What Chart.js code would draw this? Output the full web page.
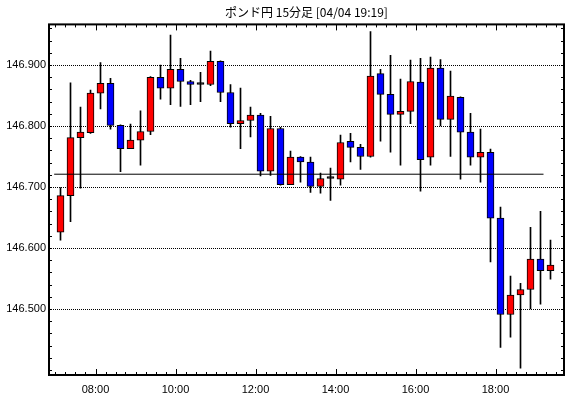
<!DOCTYPE html>
<html>
<head>
<meta charset="utf-8">
<script src="https://cdn.jsdelivr.net/npm/chart.js@4.4.0/dist/chart.umd.min.js"></script>
<style>
  html, body { margin: 0; padding: 0; background: #fff; }
  #wrap { width: 570px; height: 398px; }
</style>
</head>
<body>
<div id="wrap"><canvas id="chart" width="570" height="398"></canvas></div>
<script>
const chartTitle = 'ポンド円 15分足 [04/04 19:19]';

// 15 minute candles, start time of each bar
const times = [
  '07:00', '07:15', '07:30', '07:45', '08:00', '08:15', '08:30', '08:45', '09:00', '09:15',
  '09:30', '09:45', '10:00', '10:15', '10:30', '10:45', '11:00', '11:15', '11:30', '11:45',
  '12:00', '12:15', '12:30', '12:45', '13:00', '13:15', '13:30', '13:45', '14:00', '14:15',
  '14:30', '14:45', '15:00', '15:15', '15:30', '15:45', '16:00', '16:15', '16:30', '16:45',
  '17:00', '17:15', '17:30', '17:45', '18:00', '18:15', '18:30', '18:45', '19:00', '19:15',
];
const opens = [
  146.626, 146.686, 146.781, 146.789, 146.854, 146.870, 146.801, 146.763, 146.777, 146.791,
  146.880, 146.862, 146.893, 146.873, 146.868, 146.868, 146.906, 146.855, 146.804, 146.809,
  146.818, 146.726, 146.796, 146.704, 146.749, 146.741, 146.701, 146.714, 146.713, 146.775,
  146.765, 146.750, 146.886, 146.852, 146.819, 146.824, 146.872, 146.749, 146.895, 146.811,
  146.847, 146.790, 146.749, 146.757, 146.649, 146.491, 146.523, 146.532, 146.582, 146.563,
];
const highs = [
  146.699, 146.871, 146.831, 146.859, 146.904, 146.878, 146.802, 146.803, 146.825, 146.881,
  146.900, 146.949, 146.911, 146.875, 146.888, 146.923, 146.907, 146.868, 146.862, 146.831,
  146.821, 146.816, 146.798, 146.759, 146.750, 146.749, 146.723, 146.731, 146.785, 146.788,
  146.770, 146.955, 146.893, 146.916, 146.877, 146.908, 146.911, 146.913, 146.909, 146.890,
  146.848, 146.821, 146.795, 146.762, 146.667, 146.554, 146.542, 146.634, 146.660, 146.613,
];
const lows = [
  146.613, 146.643, 146.698, 146.788, 146.828, 146.795, 146.725, 146.763, 146.736, 146.786,
  146.844, 146.835, 146.832, 146.835, 146.840, 146.866, 146.840, 146.798, 146.763, 146.782,
  146.718, 146.719, 146.703, 146.704, 146.708, 146.691, 146.690, 146.678, 146.703, 146.741,
  146.729, 146.749, 146.775, 146.757, 146.736, 146.804, 146.693, 146.736, 146.800, 146.750,
  146.713, 146.736, 146.708, 146.577, 146.437, 146.454, 146.403, 146.500, 146.508, 146.549,
];
const closes = [
  146.686, 146.781, 146.790, 146.854, 146.870, 146.801, 146.763, 146.777, 146.791, 146.880,
  146.862, 146.893, 146.873, 146.868, 146.868, 146.906, 146.855, 146.804, 146.809, 146.818,
  146.726, 146.796, 146.704, 146.749, 146.741, 146.701, 146.714, 146.714, 146.773, 146.765,
  146.750, 146.882, 146.852, 146.819, 146.824, 146.873, 146.745, 146.895, 146.811, 146.849,
  146.790, 146.749, 146.757, 146.649, 146.491, 146.523, 146.532, 146.582, 146.563, 146.572,
];

// horizontal reference price line
const refPrice = 146.721;
const refSpan = ['06:58', '19:12'];

const xTickHours = [8, 10, 12, 14, 16, 18];
const xTickLabels = ['08:00', '10:00', '12:00', '14:00', '16:00', '18:00'];
const yTicks = [146.5, 146.6, 146.7, 146.8, 146.9];
const yTickLabels = ['146.500', '146.600', '146.700', '146.800', '146.900'];
const xRange = [6.8375, 19.7125];
const yRange = [146.3918, 146.9666];

const UP = '#ff0000';
const DOWN = '#0000ff';

function toHours(t) {
  const [h, m] = t.split(':').map(Number);
  return h + m / 60;
}

const centers = times.map(t => toHours(t) + 0.125);
const bodies = centers.map((x, i) => ({ x, y: [Math.min(opens[i], closes[i]), Math.max(opens[i], closes[i])] }));
const wicks = centers.map((x, i) => ({ x, y: [lows[i], highs[i]] }));
const bodyColors = opens.map((o, i) => closes[i] > o ? UP : closes[i] < o ? DOWN : '#000');

// frame and inward tick marks
const framePlugin = {
  id: 'frame',
  afterDraw(chart) {
    const { ctx, chartArea: a, scales: { x, y } } = chart;
    ctx.save();
    ctx.strokeStyle = '#000';
    ctx.lineWidth = 1;
    ctx.beginPath();
    for (let m = 7 * 60; m <= 19.5 * 60; m += 15) {
      const px = Math.round(x.getPixelForValue(m / 60)) + 0.5;
      const len = m % 120 === 0 ? 6 : 3;
      ctx.moveTo(px, a.bottom); ctx.lineTo(px, a.bottom - len);
      ctx.moveTo(px, a.top); ctx.lineTo(px, a.top + len);
    }
    for (let k = 0; k <= 28; k++) {
      const py = Math.round(y.getPixelForValue(146.4 + k * 0.02)) + 0.5;
      if (py < a.top || py > a.bottom) continue;
      ctx.moveTo(a.left, py); ctx.lineTo(a.left + 3, py);
      ctx.moveTo(a.right, py); ctx.lineTo(a.right - 3, py);
    }
    ctx.stroke();
    ctx.lineWidth = 2;
    ctx.strokeRect(a.left, a.top, a.right - a.left, a.bottom - a.top);
    ctx.restore();
  },
};

new Chart(document.getElementById('chart'), {
  type: 'bar',
  data: {
    datasets: [
      {
        type: 'line',
        data: refSpan.map(t => ({ x: toHours(t), y: refPrice })),
        borderColor: '#000',
        borderWidth: 1,
        pointRadius: 0,
      },
      {
        data: bodies,
        backgroundColor: bodyColors,
        borderColor: '#000',
        borderWidth: 1,
        borderSkipped: false,
        barThickness: 7,
        minBarLength: 2,
        grouped: false,
      },
      {
        data: wicks,
        backgroundColor: '#000',
        borderWidth: 0,
        barThickness: 1,
        grouped: false,
      },
    ],
  },
  options: {
    responsive: false,
    animation: false,
    events: [],
    layout: { padding: { left: 0, right: 6, top: 0, bottom: 0 } },
    plugins: {
      legend: { display: false },
      tooltip: { enabled: false },
      title: {
        display: true,
        text: chartTitle,
        fullSize: false,
        color: '#000',
        font: { family: '"Noto Sans CJK JP", sans-serif', size: 12, weight: 'normal' },
        padding: { top: 5, bottom: 5 },
      },
    },
    scales: {
      x: {
        type: 'linear',
        offset: false,
        min: xRange[0],
        max: xRange[1],
        grid: { display: false, drawTicks: false },
        border: { display: false },
        afterBuildTicks: (s) => { s.ticks = xTickHours.map(v => ({ value: v })); },
        afterFit: (s) => { s.height = 23; },
        ticks: {
          autoSkip: false,
          maxRotation: 0,
          padding: 8,
          color: '#000',
          font: { family: '"Liberation Sans", Arial, sans-serif', size: 11 },
          callback: (v) => xTickLabels[xTickHours.indexOf(v)],
        },
      },
      y: {
        type: 'linear',
        beginAtZero: false,
        min: yRange[0],
        max: yRange[1],
        grid: { color: '#000', lineWidth: 1, drawTicks: false },
        border: { display: false, dash: [1, 1] },
        afterBuildTicks: (s) => { s.ticks = yTicks.map(v => ({ value: v })); },
        afterFit: (s) => { s.width = 49; },
        ticks: {
          padding: 3,
          color: '#000',
          font: { family: '"Liberation Sans", Arial, sans-serif', size: 11 },
          callback: (v) => yTickLabels[yTicks.indexOf(v)],
        },
      },
    },
  },
  plugins: [framePlugin],
});
</script>
</body>
</html>
